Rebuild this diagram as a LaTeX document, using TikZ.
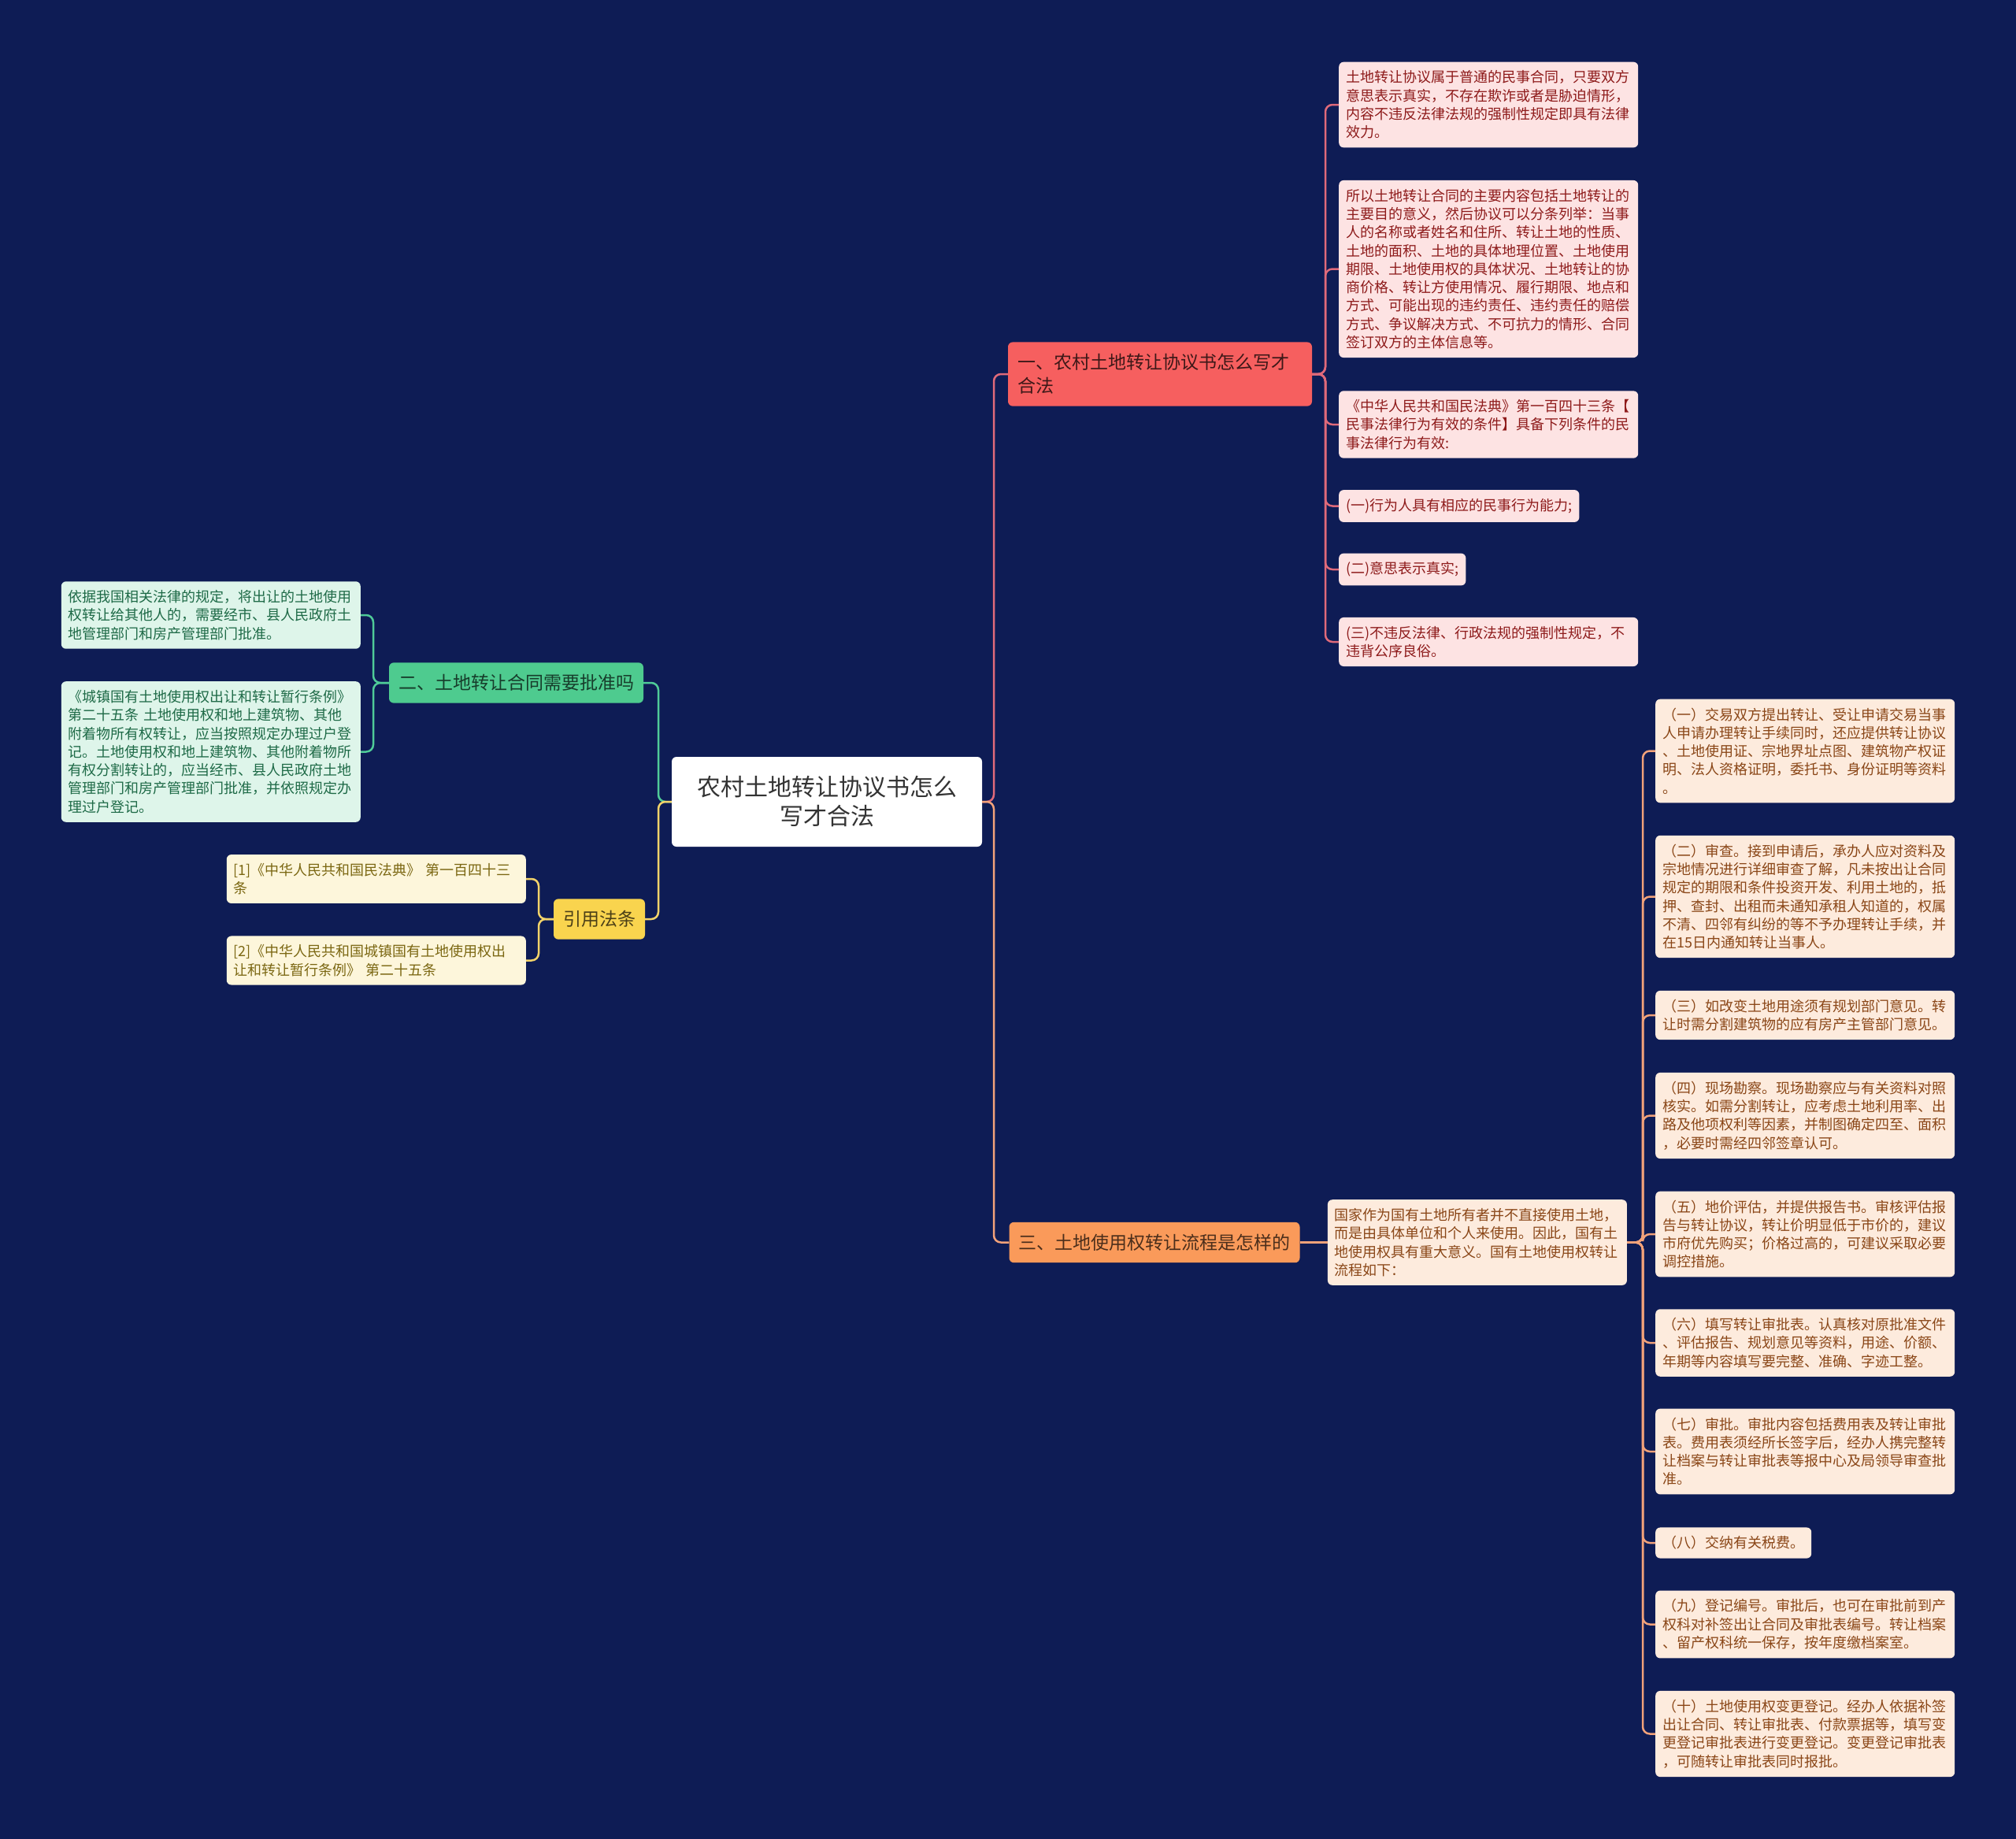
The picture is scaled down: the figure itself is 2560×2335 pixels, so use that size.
\documentclass[tikz,border=0pt]{standalone}
\usepackage{fontspec}
\setmainfont{Noto Sans CJK SC}
\usepackage{xcolor}
\usepackage{tikz}
\usetikzlibrary{positioning}
\definecolor{tdBg}{HTML}{0E1C55}
\definecolor{tdInk}{HTML}{333333}
\definecolor{tdRed}{HTML}{F65F5F}
\definecolor{tdRedInk}{HTML}{8E1B1B}
\definecolor{tdRedLeaf}{HTML}{FDE3E3}
\definecolor{tdRedLine}{HTML}{DF6A7A}
\definecolor{tdGreen}{HTML}{4ECB8F}
\definecolor{tdGreenInk}{HTML}{1E6A47}
\definecolor{tdGreenLeaf}{HTML}{DEF5EA}
\definecolor{tdGreenLine}{HTML}{4FCB98}
\definecolor{tdYellow}{HTML}{F9D44E}
\definecolor{tdYellowInk}{HTML}{7B6712}
\definecolor{tdYellowLeaf}{HTML}{FDF6DB}
\definecolor{tdYellowLine}{HTML}{F2D36A}
\definecolor{tdOrange}{HTML}{FA9A5A}
\definecolor{tdOrangeInk}{HTML}{8A4617}
\definecolor{tdOrangeLeaf}{HTML}{FDEBDD}
\definecolor{tdOrangeLine}{HTML}{F2A27A}

\begin{document}
\begin{tikzpicture}[
  x=1pt, y=-1pt,
  root/.style={fill=white, rounded corners=6pt, align=center, minimum width=394pt,
               minimum height=114pt, text=tdInk, font=\fontsize{30}{37}\selectfont},
  topic/.style={rounded corners=6pt, align=left, inner xsep=12pt, inner ysep=15pt,
                font=\fontsize{23}{30}\selectfont},
  leaf/.style={rounded corners=6pt, align=left, inner xsep=9pt, inner ysep=11pt,
               font=\fontsize{18}{23.3}\selectfont},
  wide/.style={leaf, text width=362pt},
  link/.style={line width=2.5pt, rounded corners=9pt}
]
\useasboundingbox (0,0) rectangle (2560,2335);
\fill[tdBg] (0,0) rectangle (2560,2335);

\coordinate (lstem) at (836,0);
\coordinate (rstem) at (1262,0);
\coordinate (gstem) at (474,0);
\coordinate (ystem) at (684,0);
\coordinate (redstem) at (1683,0);
\coordinate (ostem) at (2086,0);

\node[root] (root) at (1050,1018) {农村土地转让协议书怎么\\写才合法};

\node[topic, fill=tdRed, text=black!75!tdRed, text width=362pt] (b1) at (1473,475)
  {一、农村土地转让协议书怎么写才\\合法};
\node[topic, fill=tdGreen, text=black!70!tdGreen] (b2) at (655.5,867) {二、土地转让合同需要批准吗};
\node[topic, fill=tdYellow, text=black!70!tdYellow] (b3) at (761,1167) {引用法条};
\node[topic, fill=tdOrange, text=black!70!tdOrange] (b4) at (1466,1577.5) {三、土地使用权转让流程是怎样的};

% red leaves
\node[wide, fill=tdRedLeaf, text=tdRedInk, anchor=west] (r1) at (1700,133)
  {土地转让协议属于普通的民事合同，只要双方\\意思表示真实，不存在欺诈或者是胁迫情形，\\
   内容不违反法律法规的强制性规定即具有法律\\效力。};
\node[wide, fill=tdRedLeaf, text=tdRedInk, anchor=west] (r2) at (1700,341.5)
  {所以土地转让合同的主要内容包括土地转让的\\主要目的意义，然后协议可以分条列举：当事\\
   人的名称或者姓名和住所、转让土地的性质、\\土地的面积、土地的具体地理位置、土地使用\\
   期限、土地使用权的具体状况、土地转让的协\\商价格、转让方使用情况、履行期限、地点和\\
   方式、可能出现的违约责任、违约责任的赔偿\\方式、争议解决方式、不可抗力的情形、合同\\
   签订双方的主体信息等。};
\node[wide, fill=tdRedLeaf, text=tdRedInk, anchor=west] (r3) at (1700,539)
  {《中华人民共和国民法典》第一百四十三条【\\民事法律行为有效的条件】具备下列条件的民\\事法律行为有效:};
\node[leaf, fill=tdRedLeaf, text=tdRedInk, anchor=west] (r4) at (1700,642.5) {(一)行为人具有相应的民事行为能力;};
\node[leaf, fill=tdRedLeaf, text=tdRedInk, anchor=west] (r5) at (1700,723) {(二)意思表示真实;};
\node[wide, fill=tdRedLeaf, text=tdRedInk, anchor=west] (r6) at (1700,815)
  {(三)不违反法律、行政法规的强制性规定，不\\违背公序良俗。};

% green leaves
\node[wide, fill=tdGreenLeaf, text=tdGreenInk, anchor=east] (g1) at (458,781)
  {依据我国相关法律的规定，将出让的土地使用\\权转让给其他人的，需要经市、县人民政府土\\地管理部门和房产管理部门批准。};
\node[wide, fill=tdGreenLeaf, text=tdGreenInk, anchor=east] (g2) at (458,954.5)
  {《城镇国有土地使用权出让和转让暂行条例》\\第二十五条~土地使用权和地上建筑物、其他\\
   附着物所有权转让，应当按照规定办理过户登\\记。土地使用权和地上建筑物、其他附着物所\\
   有权分割转让的，应当经市、县人民政府土地\\管理部门和房产管理部门批准，并依照规定办\\理过户登记。};

% yellow leaves
\node[wide, fill=tdYellowLeaf, text=tdYellowInk, anchor=east] (y1) at (668,1116)
  {[1]《中华人民共和国民法典》~第一百四十三\\条};
\node[wide, fill=tdYellowLeaf, text=tdYellowInk, anchor=east] (y2) at (668,1219.5)
  {[2]《中华人民共和国城镇国有土地使用权出\\让和转让暂行条例》~第二十五条};

% orange leaves
\node[wide, fill=tdOrangeLeaf, text=tdOrangeInk, right=35pt of b4] (od)
  {国家作为国有土地所有者并不直接使用土地，\\而是由具体单位和个人来使用。因此，国有土\\
   地使用权具有重大意义。国有土地使用权转让\\流程如下：};
\node[wide, fill=tdOrangeLeaf, text=tdOrangeInk, anchor=west] (o1) at (2102,953.5)
  {（一）交易双方提出转让、受让申请交易当事\\人申请办理转让手续同时，还应提供转让协议\\
   、土地使用证、宗地界址点图、建筑物产权证\\明、法人资格证明，委托书、身份证明等资料\\。};
\node[wide, fill=tdOrangeLeaf, text=tdOrangeInk, anchor=west] (o2) at (2102,1138.5)
  {（二）审查。接到申请后，承办人应对资料及\\宗地情况进行详细审查了解，凡未按出让合同\\
   规定的期限和条件投资开发、利用土地的，抵\\押、查封、出租而未通知承租人知道的，权属\\
   不清、四邻有纠纷的等不予办理转让手续，并\\在15日内通知转让当事人。};
\node[wide, fill=tdOrangeLeaf, text=tdOrangeInk, anchor=west] (o3) at (2102,1289)
  {（三）如改变土地用途须有规划部门意见。转\\让时需分割建筑物的应有房产主管部门意见。};
\node[wide, fill=tdOrangeLeaf, text=tdOrangeInk, anchor=west] (o4) at (2102,1416.5)
  {（四）现场勘察。现场勘察应与有关资料对照\\核实。如需分割转让，应考虑土地利用率、出\\
   路及他项权利等因素，并制图确定四至、面积\\，必要时需经四邻签章认可。};
\node[wide, fill=tdOrangeLeaf, text=tdOrangeInk, anchor=west] (o5) at (2102,1567)
  {（五）地价评估，并提供报告书。审核评估报\\告与转让协议，转让价明显低于市价的，建议\\
   市府优先购买；价格过高的，可建议采取必要\\调控措施。};
\node[wide, fill=tdOrangeLeaf, text=tdOrangeInk, anchor=west] (o6) at (2102,1705)
  {（六）填写转让审批表。认真核对原批准文件\\、评估报告、规划意见等资料，用途、价额、\\
   年期等内容填写要完整、准确、字迹工整。};
\node[wide, fill=tdOrangeLeaf, text=tdOrangeInk, anchor=west] (o7) at (2102,1843)
  {（七）审批。审批内容包括费用表及转让审批\\表。费用表须经所长签字后，经办人携完整转\\
   让档案与转让审批表等报中心及局领导审查批\\准。};
\node[leaf, fill=tdOrangeLeaf, text=tdOrangeInk, anchor=west] (o8) at (2102,1959) {（八）交纳有关税费。};
\node[wide, fill=tdOrangeLeaf, text=tdOrangeInk, anchor=west] (o9) at (2102,2062.5)
  {（九）登记编号。审批后，也可在审批前到产\\权科对补签出让合同及审批表编号。转让档案\\
   、留产权科统一保存，按年度缴档案室。};
\node[wide, fill=tdOrangeLeaf, text=tdOrangeInk, anchor=west] (o10) at (2102,2201.5)
  {（十）土地使用权变更登记。经办人依据补签\\出让合同、转让审批表、付款票据等，填写变\\
   更登记审批表进行变更登记。变更登记审批表\\，可随转让审批表同时报批。};

\draw[link, tdGreenLine] (root.west) -- (lstem |- root.west) |- (b2.east);
\draw[link, tdYellowLine] (root.west) -- (lstem |- root.west) |- (b3.east);
\draw[link, tdRedLine] (root.east) -- (rstem |- root.east) |- (b1.west);
\draw[link, tdOrangeLine] (root.east) -- (rstem |- root.east) |- (b4.west);

\foreach \n in {r1,r2,r3,r4,r5,r6}
  \draw[link, tdRedLine] (b1.east) -- (redstem |- b1.east) |- (\n.west);
\foreach \n in {g1,g2}
  \draw[link, tdGreenLine] (b2.west) -- (gstem |- b2.west) |- (\n.east);
\foreach \n in {y1,y2}
  \draw[link, tdYellowLine] (b3.west) -- (ystem |- b3.west) |- (\n.east);
\draw[link, tdOrangeLine] (b4.east) -- (od.west);
\foreach \n in {o1,o2,o3,o4,o5,o6,o7,o8,o9,o10}
  \draw[link, tdOrangeLine] (od.east) -- (ostem |- od.east) |- (\n.west);

\end{tikzpicture}
\end{document}
